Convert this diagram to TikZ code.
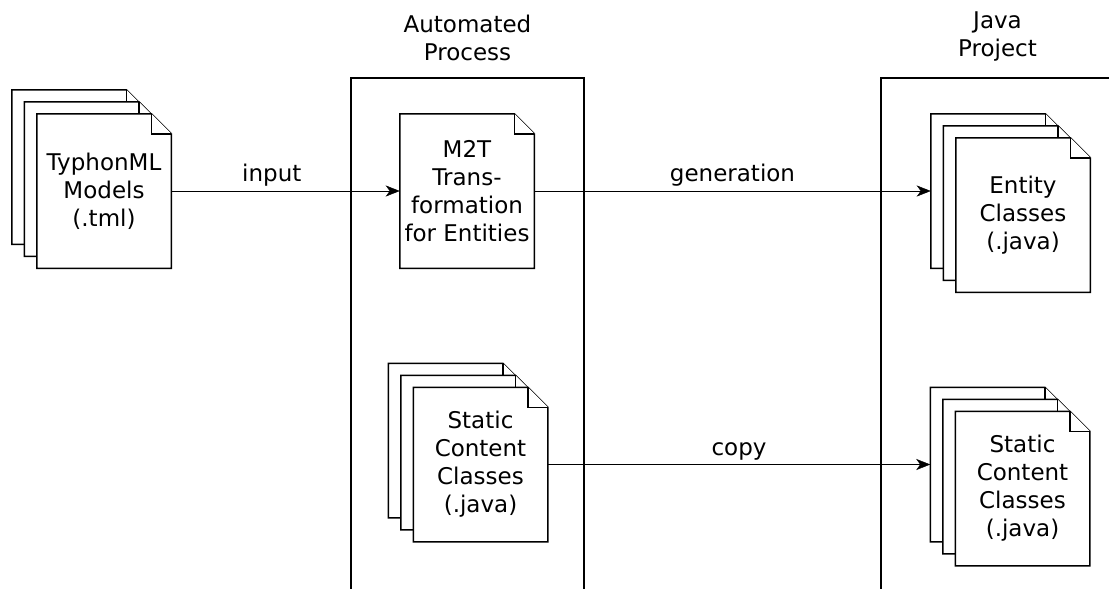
\documentclass[tikz,border=0pt]{standalone}
\usepackage{fontspec}
\setmainfont{DejaVu Sans}
\usetikzlibrary{arrows.meta,positioning}
\pgfdeclarelayer{background}
\pgfsetlayers{background,main}

% page outline with folded corner around a node
\newcommand{\docframe}[1]{%
  \draw[doc line] (#1.north west) -- ([xshift=-20pt]#1.north east)
    -- ([yshift=-20pt]#1.north east) -- (#1.south east)
    -- (#1.south west) -- cycle;
  \draw[doc line] ([xshift=-20pt]#1.north east)
    -- ([xshift=-20pt,yshift=-20pt]#1.north east)
    -- ([yshift=-20pt]#1.north east);}

\begin{document}
\begin{tikzpicture}[x=1pt, y=-1pt,
					auto,
					line width=1.5pt,
					font=\fontsize{23}{28}\selectfont,
					doc/.style={inner sep=0pt, minimum width=133pt, minimum height=153pt, align=center},
					doc line/.style={draw=black, fill=white, line width=1.5pt, line join=miter},
					frame/.style={draw, minimum width=233pt, minimum height=560pt, anchor=north},
					title/.style={align=center, inner sep=0pt},
					flow/.style={-{Stealth[length=14pt,width=11pt,inset=4pt]}},
					flowtext/.style={inner sep=4.5pt}]

  \useasboundingbox (0,0) rectangle (1109,589);

  % containers
  \begin{scope}
    \clip (0,0) rectangle (1109,589);
    \node[frame] (autobox) at (467.5,77) {};
    \node[frame] (javabox) at (997.5,77) {};
  \end{scope}
  \node[title, above=15pt of autobox.north] {Automated\\Process};
  \node[title, above=15pt of javabox.north] {Java\\Project};

  % documents
  \node[doc] (tml) at (104,191) {TyphonML\\Models\\(.tml)};
  \node[doc] (tml2) at ([shift={(-12.5,-12)}]tml.center) {};
  \node[doc] (tml3) at ([shift={(-25,-24)}]tml.center) {};

  \node[doc] (m2t) at (467,191) {M2T\\Trans-\\formation\\for Entities};

  \node[doc] (sta) at (480.5,464.5) {Static\\Content\\Classes\\(.java)};
  \node[doc] (sta2) at ([shift={(-12.5,-12)}]sta.center) {};
  \node[doc] (sta3) at ([shift={(-25,-24)}]sta.center) {};

  \node[doc] (ent) at (1023,215) {Entity\\Classes\\(.java)};
  \node[doc] (ent2) at ([shift={(-12.5,-12)}]ent.center) {};
  \node[doc] (ent3) at ([shift={(-25,-24)}]ent.center) {};

  \node[doc] (stj) at (1022.5,488.5) {Static\\Content\\Classes\\(.java)};
  \node[doc] (stj2) at ([shift={(-12.5,-12)}]stj.center) {};
  \node[doc] (stj3) at ([shift={(-25,-24)}]stj.center) {};

  \begin{pgfonlayer}{background}
    \foreach \d in {tml3,tml2,tml,m2t,sta3,sta2,sta,ent3,ent2,ent,stj3,stj2,stj}
      \docframe{\d};
  \end{pgfonlayer}

  \path[flow, every node/.style={flowtext}]
    (tml) edge node[pos=.44] {input} (m2t)
    (m2t) edge node {generation} (ent3)
    (sta) edge node {copy} (stj3);
\end{tikzpicture}
\end{document}
